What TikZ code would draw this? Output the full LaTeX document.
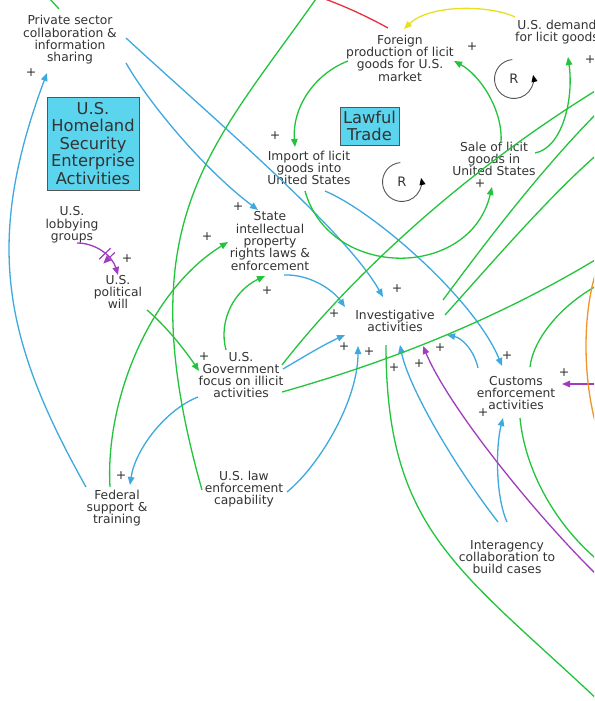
\documentclass[tikz,border=0pt]{standalone}
\usepackage{fontspec}
\setmainfont{DejaVu Sans}
\usetikzlibrary{arrows.meta,decorations.markings}
\definecolor{cldblue}{HTML}{3DA9DE}
\definecolor{cldgreen}{HTML}{22C43C}
\definecolor{cldpurple}{HTML}{A03CC0}
\definecolor{cldred}{HTML}{E83040}
\definecolor{cldyellow}{HTML}{E6E020}
\definecolor{cldorange}{HTML}{F09428}
\definecolor{boxcyan}{HTML}{5BD4EE}
\definecolor{txtgray}{HTML}{333333}
\definecolor{loopgray}{HTML}{555555}
\begin{document}
\begin{tikzpicture}[x=1pt,y=-1pt,
  var/.style={text=txtgray, align=center, inner sep=0pt,
    font=\fontsize{12.3}{12.3}\selectfont},
  sector/.style={draw=loopgray, line width=0.8pt, fill=boxcyan, text=txtgray,
    align=center, inner sep=0pt, font=\fontsize{16.3}{17.5}\selectfont},
  pol/.style={text=txtgray, inner sep=0pt, font=\fontsize{12.5}{12.5}\selectfont},
  link/.style={line width=1.3pt, -{Triangle[length=8pt,width=6.5pt]}},
  bare/.style={line width=1.3pt},
  bl/.style={link, draw=cldblue},
  gr/.style={link, draw=cldgreen},
  pu/.style={link, draw=cldpurple},
  loopmark/.style={draw=loopgray, line width=0.9pt,
    -{Triangle[length=7pt,width=6pt,color=black]}},
  looplabel/.style={text=txtgray, inner sep=0pt, font=\fontsize{13}{13}\selectfont},
]
\useasboundingbox (0,0) rectangle (594,701);
\fill[white] (0,0) rectangle (594,701);
\clip (0,0) rectangle (594,701);

% ---------- variables ----------
\node[var] (priv)    at (70,40)   {Private sector\\collaboration \&\\information\\sharing};
\node[var] (foreign) at (400,58)  {Foreign\\production of licit\\goods for U.S.\\market};
\node[var] (demand)  at (557,32)  {U.S. demand\\for licit goods};
\node[var] (import)  at (309,168) {Import of licit\\goods into\\United States};
\node[var] (sale)    at (494,159) {Sale of licit\\goods in\\United States};
\node[var] (lobby)   at (72,225)  {U.S.\\lobbying\\groups};
\node[var] (will)    at (118,292) {U.S.\\political\\will};
\node[var] (stateip) at (270,241) {State\\intellectual\\property\\rights laws \&\\enforcement};
\node[var] (gov)     at (241,375) {U.S.\\Government\\focus on illicit\\activities};
\node[var] (inv)     at (395,321) {Investigative\\activities};
\node[var] (customs) at (516,393) {Customs\\enforcement\\activities};
\node[var] (federal) at (117,508) {Federal\\support \&\\training};
\node[var] (lawenf)  at (244,489) {U.S. law\\enforcement\\capability};
\node[var] (inter)   at (507,557) {Interagency\\collaboration to\\build cases};

% ---------- sector boxes ----------
\node[sector, minimum width=92pt, minimum height=93pt] (hse) at (93,143.5)
  {U.S.\\Homeland\\Security\\Enterprise\\Activities};
\node[sector, minimum width=59pt, minimum height=38pt] (lawful) at (369.5,126)
  {Lawful\\Trade};

% ---------- links leaving the frame ----------
\coordinate (outG5)  at (318,-4);
\coordinate (outG9)  at (600,88);
\coordinate (outL2)  at (600,110);
\coordinate (outL3)  at (600,152);
\coordinate (outL4)  at (600,257);
\coordinate (outG10) at (600,702);
\coordinate (outG11) at (600,562);
\coordinate (outG12) at (600,284);
\coordinate (inP2)   at (600,384);
\coordinate (inP3)   at (600,578);
\coordinate (outRed) at (322,-2);
\coordinate (orA)    at (598,266);
\coordinate (orB)    at (598,432);

% ---------- blue links ----------
\draw[bl] ([shift={(-31,-21)}]federal.center) .. controls (3,339) and (-16,242) .. ([shift={(-23,33)}]priv.center);
\draw[bl] ([shift={(56,23)}]priv.center) .. controls (150,105) and (205,170) .. ([shift={(-12,-31)}]stateip.center);
\draw[bl] ([shift={(56,-2)}]priv.center) .. controls (215,120) and (345,230) .. ([shift={(-12,-24)}]inv.center);
\draw[bl] ([shift={(16,23)}]import.center) .. controls (375,212) and (475,300) .. ([shift={(-14,-27)}]customs.center);
\draw[bl] ([shift={(14,34)}]stateip.center) .. controls (310,274) and (333,290) .. ([shift={(-50,-14)}]inv.center);
\draw[bl] ([shift={(42,-6)}]gov.center) .. controls (305,356) and (325,344) .. ([shift={(-50,14)}]inv.center);
\draw[bl] ([shift={(-43,22)}]gov.center) .. controls (165,410) and (135,450) .. ([shift={(13,-23)}]federal.center);
\draw[bl] ([shift={(43,3)}]lawenf.center) .. controls (320,465) and (358,400) .. ([shift={(-37,25)}]inv.center);
\draw[bl] ([shift={(-9,-35)}]inter.center) .. controls (450,460) and (408,385) .. ([shift={(5,24)}]inv.center);
\draw[bl] ([shift={(0,-35)}]inter.center) .. controls (495,495) and (496,445) .. ([shift={(-13,25)}]customs.center);
\draw[bl] ([shift={(-38,-25)}]customs.center) .. controls (474,350) and (462,338) .. ([shift={(52,14)}]inv.center);

% ---------- green links ----------
\draw[gr] ([shift={(-52,3)}]foreign.center) .. controls (312,75) and (292,110) .. ([shift={(-14,-21)}]import.center);
\draw[gr] ([shift={(7,-17)}]sale.center) .. controls (503,110) and (480,75) .. ([shift={(54,3)}]foreign.center);
\draw[gr] ([shift={(-4,23)}]import.center) .. controls (330,280) and (470,280) .. ([shift={(-2,28)}]sale.center);
\draw[gr] ([shift={(41,-6)}]sale.center) .. controls (562,148) and (574,100) .. ([shift={(11,25)}]demand.center);
\draw[gr] ([shift={(-7,-21)}]federal.center) .. controls (105,400) and (150,290) .. ([shift={(-42,1)}]stateip.center);
\draw[gr] ([shift={(29,18)}]will.center) .. controls (165,325) and (185,350) .. ([shift={(-42,-4)}]gov.center);
\draw[gr] ([shift={(-15,-25)}]gov.center) .. controls (218,320) and (235,290) .. ([shift={(-5,35)}]stateip.center);
\draw[bare, cldgreen] ([shift={(-42,1)}]lawenf.center) .. controls (126,221) and (210,150) .. (outG5);
\draw[bare, cldgreen] ([shift={(41,-10)}]gov.center) .. controls (340,290) and (450,180) .. (outG9);
\draw[bare, cldgreen] ([shift={(41,17)}]gov.center) .. controls (360,370) and (480,330) .. (outL4);
\draw[bare, cldgreen] ([shift={(48,-21)}]inv.center) .. controls (480,250) and (540,170) .. (outL2);
\draw[bare, cldgreen] ([shift={(50,-6)}]inv.center) .. controls (490,265) and (550,195) .. (outL3);
\draw[bare, cldgreen] ([shift={(-9,24)}]inv.center) .. controls (386,530) and (459,569) .. (outG10);
\draw[bare, cldgreen] ([shift={(4,25)}]customs.center) .. controls (525,470) and (555,525) .. (outG11);
\draw[bare, cldgreen] ([shift={(14,-26)}]customs.center) .. controls (533,340) and (560,305) .. (outG12);
\draw[bare, cldgreen] (50,-1) -- (59,9);

% ---------- purple links ----------
\draw[pu, postaction={decorate, decoration={markings,
    mark=at position 0.6 with {\draw[cldpurple, line width=1.2pt] (-3,-8) -- (-3,8) (3,-8) -- (3,8);}}}]
  ([shift={(5,18)}]lobby.center) .. controls (95,243) and (112,255) .. ([shift={(0,-17)}]will.center);
\draw[pu] (inP2) -- ([shift={(46,-9)}]customs.center);
\draw[pu] (inP3) .. controls (540,520) and (450,410) .. ([shift={(28,25)}]inv.center);

% ---------- other colours ----------
\draw[bare, cldred] ([shift={(-12,-30)}]foreign.center) .. controls (370,18) and (345,6) .. (outRed);
\draw[link, draw=cldyellow] ([shift={(-42,-15)}]demand.center) .. controls (490,5) and (430,4) .. ([shift={(4,-29)}]foreign.center);
\draw[bare, cldorange] (orA) .. controls (582,310) and (582,380) .. (orB);

% ---------- reinforcing loop markers ----------
\node[looplabel] (r1) at (514,79) {R};
\draw[loopmark] ([shift={(-95:19.5)}]r1.center) arc[start angle=-95, end angle=-372, radius=19.5];
\node[looplabel] (r2) at (402,182) {R};
\draw[loopmark] ([shift={(-95:19.5)}]r2.center) arc[start angle=-95, end angle=-372, radius=19.5];

% ---------- polarities ----------
\node[pol] (s1)  at (31,73)   {+};
\node[pol] (s2)  at (472,47)  {+};
\node[pol] (s3)  at (590,60)  {+};
\node[pol] (s4)  at (275,136) {+};
\node[pol] (s5)  at (480,184) {+};
\node[pol] (s6)  at (238,207) {+};
\node[pol] (s7)  at (207,237) {+};
\node[pol] (s8)  at (127,259) {+};
\node[pol] (s9)  at (267,291) {+};
\node[pol] (s10) at (397,289) {+};
\node[pol] (s11) at (334,314) {+};
\node[pol] (s12) at (344,347) {+};
\node[pol] (s13) at (369,352) {+};
\node[pol] (s14) at (440,348) {+};
\node[pol] (s15) at (419,364) {+};
\node[pol] (s16) at (394,368) {+};
\node[pol] (s17) at (507,356) {+};
\node[pol] (s18) at (564,373) {+};
\node[pol] (s19) at (483,413) {+};
\node[pol] (s20) at (204,357) {+};
\node[pol] (s21) at (121,476) {+};
\end{tikzpicture}
\end{document}
